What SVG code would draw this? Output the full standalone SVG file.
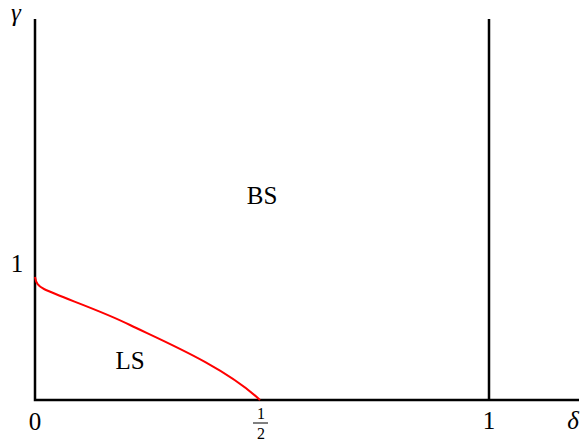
<svg xmlns="http://www.w3.org/2000/svg" width="586" height="444" viewBox="0 0 586 444">
<style>
.ax{stroke:#000;stroke-width:2.5;fill:none}
.i{font-style:italic}
</style>
<rect width="586" height="444" fill="#fff"/>
<g id="connectors">
<path class="ax" d="M35,19V400H579"/>
<path class="ax" d="M489,19V400"/>
<path d="M35,277 C36,283 38,286 44,289 C60,297 100,310 130,325 C163,341 225,367 260,400" fill="none" stroke="#f00" stroke-width="2"/>
</g>
<g id="labels" font-family="Liberation Serif, DejaVu Serif, serif" font-size="25" fill="#000" text-anchor="middle">
<text class="i" x="16" y="21">γ</text>
<text x="17" y="272">1</text>
<text x="35" y="430">0</text>
<text x="261" y="419" font-size="16">1</text>
<line x1="253" y1="423" x2="268" y2="423" stroke="#000" stroke-width="1"/>
<text x="261" y="439" font-size="16">2</text>
<text x="489" y="429">1</text>
<text class="i" x="573" y="429">δ</text>
<text x="262" y="204">BS</text>
<text x="130" y="369">LS</text>
</g>
</svg>
